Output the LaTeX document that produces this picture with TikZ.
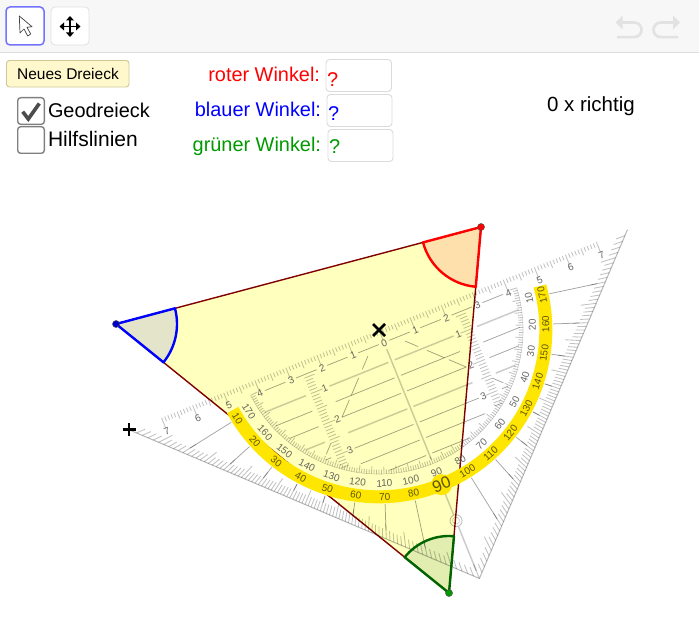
\documentclass[tikz,border=0pt]{standalone}
\usepackage{fontspec}
\setmainfont{Liberation Sans}
\definecolor{triFill}{RGB}{255,255,190}
\definecolor{triEdge}{RGB}{128,0,0}
\definecolor{redFill}{RGB}{253,224,172}
\definecolor{blueFill}{RGB}{228,228,202}
\definecolor{greenFill}{RGB}{226,238,176}
\definecolor{greenStroke}{RGB}{0,100,0}
\definecolor{uiGreen}{RGB}{0,153,0}
\definecolor{bandYellow}{RGB}{255,230,0}
\definecolor{bandText}{RGB}{95,85,0}
\definecolor{barGray}{RGB}{247,247,247}
\definecolor{iconGray}{RGB}{226,226,226}
\definecolor{btnFill}{RGB}{255,248,205}
\definecolor{btnEdge}{RGB}{205,200,150}
\tikzset{
  uitext/.style={inner sep=0pt,outer sep=0pt,font=\fontsize{19.9}{22}\selectfont},
  inputbox/.style={draw=black!14,fill=white,rounded corners=3.5pt,line width=0.9pt},
  checkbox/.style={draw=black!50,fill=white,rounded corners=3pt,line width=1.4pt},
  tool/.style={rounded corners=4pt,fill=white},
  fineTick/.style={draw=black,opacity=0.24,line width=0.85pt},
  thinRow/.style={draw=black,opacity=0.36,line width=0.75pt},
  thickRow/.style={draw=black,opacity=0.2,line width=1.5pt},
  geoLabel/.style={inner sep=0pt,text=black!70,opacity=0.85,font=\fontsize{10}{12}\selectfont},
  bandLabel/.style={inner sep=0pt,text=bandText,font=\fontsize{10}{12}\selectfont},
  anglestroke/.style={line width=2.4pt,line join=round},
  vertexdot/.style={circle,draw=black!70,line width=0.5pt,inner sep=0pt,minimum size=7pt},
}
\begin{document}
\begin{tikzpicture}[x=1pt,y=-1pt]
\useasboundingbox (0,0) rectangle (700,620);
\fill[white] (0,0) rectangle (700,620);
% top bar
\fill[barGray] (0,0) rectangle (698.5,52);
\draw[black!13,line width=1pt] (0,52.5) -- (698.5,52.5);
\draw[tool,draw=blue!55!white,line width=1.5pt] (6,7) rectangle (44,45);
\draw[tool,draw=black!12,line width=0.8pt] (51,7) rectangle (89,45);
\draw[fill=white,draw=black!75,line width=0.7pt,line join=round]
  (19.3,16) -- (20,33) -- (24,29) -- (27.7,36) -- (30.7,34) -- (27,27.3) -- (32,26.7) -- cycle;
\draw[black,line width=1.1pt] (61,26.5) -- (79,26.5) (70,17.5) -- (70,35.5);
\fill[black] (59.5,26.5) -- (64,22.5) -- (64,30.5) -- cycle;
\fill[black] (80.5,26.5) -- (76,22.5) -- (76,30.5) -- cycle;
\fill[black] (70,16) -- (66,20.5) -- (74,20.5) -- cycle;
\fill[black] (70,37) -- (66,32.5) -- (74,32.5) -- cycle;
% undo / redo
\draw[iconGray,line width=2.6pt] (622,22.5) -- (634,22.5) .. controls (644,22.5) and (644,37.1) .. (634,37.1) -- (617,37.1);
\fill[iconGray] (615.5,22.5) -- (622.5,15.5) -- (622.5,29.5) -- cycle;
\draw[iconGray,line width=2.6pt] (673,22.5) -- (661,22.5) .. controls (651,22.5) and (651,37.1) .. (661,37.1) -- (678,37.1);
\fill[iconGray] (680,22.5) -- (673,15.5) -- (673,29.5) -- cycle;
% controls
\draw[fill=btnFill,draw=btnEdge,rounded corners=3pt,line width=0.9pt] (6.5,60.5) rectangle (129,87);
\node[uitext,font=\fontsize{15.5}{18}\selectfont] (newbtn) at (68,73.5) {Neues Dreieck};
\draw[checkbox] (17.7,97.7) rectangle (44.3,124.3);
\draw[checkbox] (17.7,126.7) rectangle (44.3,153.3);
\draw[black!70,line width=3.6pt,line join=miter] (22.7,111.7) -- (28.3,119) -- (39.3,103.5);
\node[uitext,anchor=base west] (geo) at (48,118) {Geodreieck};
\node[uitext,anchor=base west,font=\fontsize{21}{22}\selectfont] (hilf) at (48,147) {Hilfslinien};
\node[uitext,anchor=base east,text=red] (lred) at (320,82) {roter Winkel:};
\node[uitext,anchor=base east,text=blue] (lblue) at (321,117) {blauer Winkel:};
\node[uitext,anchor=base east,text=uiGreen] (lgreen) at (321,152) {grüner Winkel:};
\draw[inputbox] (326,59.5) rectangle (391.5,91.5);
\draw[inputbox] (327,94.5) rectangle (392,126.5);
\draw[inputbox] (328,129.5) rectangle (393,161.5);
\node[uitext,anchor=base west,text=red] (qred) at (327,87) {?};
\node[uitext,anchor=base west,text=blue] (qblue) at (328,121) {?};
\node[uitext,anchor=base west,text=uiGreen] (qgreen) at (329,154) {?};
\node[uitext,anchor=base west,font=\fontsize{20.5}{22}\selectfont] (score) at (547,112) {0 x richtig};
% triangle
\coordinate (R) at (481,227);
\coordinate (B) at (116,324);
\coordinate (G) at (449,593);
\fill[triFill] (R) -- (B) -- (G) -- cycle;
\begin{scope}[shift={(R)},x=1pt,y=1pt]
  \fill[redFill] (0,0) -- (194.88:60) arc[start angle=194.88,end angle=265,radius=60] -- cycle;
\end{scope}
\begin{scope}[shift={(B)},x=1pt,y=1pt]
  \fill[blueFill] (0,0) -- (-38.9:61) arc[start angle=-38.9,end angle=14.88,radius=61] -- cycle;
\end{scope}
\begin{scope}[shift={(G)},x=1pt,y=1pt]
  \fill[greenFill] (0,0) -- (85:57) arc[start angle=85,end angle=141.1,radius=57] -- cycle;
\end{scope}
\draw[triEdge,line width=1.4pt] (R) -- (B) -- (G) -- cycle;
% set square
\begin{scope}[shift={(379,330)},x=33.5pt,y=-33.5pt,rotate=22]
  % outer edge
  \draw[black,opacity=0.28,line width=1pt] (-8,0) -- (0,8) -- (8,0);
  % hypotenuse ruler
  \foreach \i in {-70,...,70}{
    \pgfmathtruncatemacro\m{abs(mod(\i,10))}
    \pgfmathsetmacro\L{ifthenelse(\m==0,0.34,ifthenelse(\m==5,0.22,0.14))}
    \draw[fineTick] ({\i/10},0) -- ({\i/10},\L);
  }
  \foreach \k in {-7,...,7}{
    \pgfmathtruncatemacro\lab{abs(\k)}
    \node[geoLabel,rotate=22] (hl\lab x\k) at (\k,0.42) {\lab};
  }
  \foreach \k in {-4,...,3}
    \draw[thinRow] ({\k+0.17},0.4) -- ({\k+0.83},0.4);
  % rows parallel to the hypotenuse
  \foreach \d/\s in {1/thickRow,1.5/thinRow,2/thinRow,2.5/thickRow,3/thinRow,3.5/thinRow}{
    \draw[\s] (-2.0,\d) -- (-0.1,\d);
    \draw[\s] (0.1,\d) -- (2.0,\d);
  }
  \draw[thinRow] (-1.28,4) -- (-0.1,4);
  \draw[thinRow] (1.28,4) -- (0.1,4);
  \foreach \d/\s in {1/thickRow,1.5/thinRow,2/thinRow,2.5/thickRow,3/thinRow}{
    \pgfmathsetmacro\e{sqrt(17.64-\d*\d)}
    \draw[\s] (-\e,\d) -- (-2.75,\d);
    \draw[\s] (\e,\d) -- (2.75,\d);
  }
  % centre line
  \draw[thickRow] (0,0.62) -- (0,4.17);
  % 45 degree dashes
  \foreach \u/\v in {0.6/0.9,1.1/1.5,1.6/2,2.6/2.85}{
    \draw[thinRow] (-\u,\u) -- (-\v,\v);
    \draw[thinRow] (\u,\u) -- (\v,\v);
  }
  % perpendicular rulers
  \foreach \i in {5,...,34}{
    \pgfmathtruncatemacro\m{mod(\i,10)}
    \pgfmathsetmacro\L{ifthenelse(\m==0,0.38,ifthenelse(\m==5,0.32,0.24))}
    \draw[fineTick] (-2.6,{\i/10}) -- ({-2.6+\L},{\i/10});
    \draw[fineTick] (2.6,{\i/10}) -- ({2.6-\L},{\i/10});
  }
  \foreach \k in {1,2,3}{
    \node[geoLabel,rotate=22] (pl\k) at (-2.15,\k) {\k};
    \node[geoLabel,rotate=22] (pr\k) at (2.15,\k) {\k};
  }
  % inner degree scale
  \draw[black,opacity=0.18,line width=0.6pt] plot[domain=5:175,samples=60] ({-4.3*cos(\x)},{4.3*sin(\x)});
  \foreach \p in {5,...,175}{
    \pgfmathtruncatemacro\m{mod(\p,5)}
    \pgfmathsetmacro\rr{ifthenelse(\m==0,4.08,4.17)}
    \draw[fineTick] ({-4.3*cos(\p)},{4.3*sin(\p)}) -- ({-\rr*cos(\p)},{\rr*sin(\p)});
  }
  \foreach \p in {10,20,...,170}{
    \pgfmathtruncatemacro\lab{180-\p}
    \pgfmathsetmacro\rot{\p-90+22}
    \node[geoLabel,rotate=\rot] (gd\p) at ({-4.58*cos(\p)},{4.58*sin(\p)}) {\lab};
  }
  % outer degree ticks, fanned from the centre
  \foreach \p in {1,...,179}{
    \pgfmathsetmacro\re{8/(abs(cos(\p))+sin(\p))}
    \pgfmathtruncatemacro\m{mod(\p,5)}
    \pgfmathsetmacro\ri{\re-ifthenelse(\m==0,0.46,0.28)}
    \draw[fineTick] ({-\ri*cos(\p)},{\ri*sin(\p)}) -- ({-\re*cos(\p)},{\re*sin(\p)});
  }
  \foreach \p in {10,20,...,80,100,110,...,170}{
    \pgfmathsetmacro\re{8/(abs(cos(\p))+sin(\p))-0.25}
    \draw[thinRow] ({-5.2*cos(\p)},{5.2*sin(\p)}) -- ({-\re*cos(\p)},{\re*sin(\p)});
  }
  \draw[thickRow] (0,5.25) -- (0,5.95);
  \draw[thickRow] (0,6.33) -- (0,7.75);
  \draw[black,opacity=0.25,line width=0.9pt] (0,6.14) circle[radius=6pt];
  \draw[black,opacity=0.2,line width=0.7pt] (0,6.14) circle[radius=3.5pt];
  % yellow band
  \draw[bandYellow,line width=13pt] plot[domain=6.7:173.3,samples=80] ({-4.98*cos(\x)},{4.98*sin(\x)});
  \fill[bandYellow] (0,4.98) circle[radius=10.5pt];
  \foreach \p in {10,20,...,80,100,110,...,170}{
    \pgfmathsetmacro\rot{\p-90+22}
    \node[bandLabel,rotate=\rot] (yd\p) at ({-4.98*cos(\p)},{4.98*sin(\p)}) {\p};
  }
  \node[bandLabel,rotate=22,font=\fontsize{16.5}{18}\selectfont] (yd90) at (0,4.98) {90};
\end{scope}
% angle strokes
\begin{scope}[shift={(R)},x=1pt,y=1pt]
  \draw[red,anglestroke] (0,0) -- (194.88:60) arc[start angle=194.88,end angle=265,radius=60] -- cycle;
\end{scope}
\begin{scope}[shift={(B)},x=1pt,y=1pt]
  \draw[blue,anglestroke] (0,0) -- (-38.9:61) arc[start angle=-38.9,end angle=14.88,radius=61] -- cycle;
\end{scope}
\begin{scope}[shift={(G)},x=1pt,y=1pt]
  \draw[greenStroke,anglestroke] (0,0) -- (85:57) arc[start angle=85,end angle=141.1,radius=57] -- cycle;
\end{scope}
\node[vertexdot,fill=red] (dotR) at (R) {};
\node[vertexdot,fill=blue!80!black] (dotB) at (B) {};
\node[vertexdot,fill=green!60!black] (dotG) at (G) {};
% handles
\coordinate (hx) at (379,330);
\draw[black,line width=2.8pt] ([shift={(-6,-6)}]hx) -- ([shift={(6,6)}]hx) ([shift={(-6,6)}]hx) -- ([shift={(6,-6)}]hx);
\coordinate (hp) at (129,429.5);
\draw[black,line width=2.6pt] ([shift={(-6.5,0)}]hp) -- ([shift={(6.5,0)}]hp) ([shift={(0,-6.5)}]hp) -- ([shift={(0,6.5)}]hp);
\end{tikzpicture}
\end{document}
